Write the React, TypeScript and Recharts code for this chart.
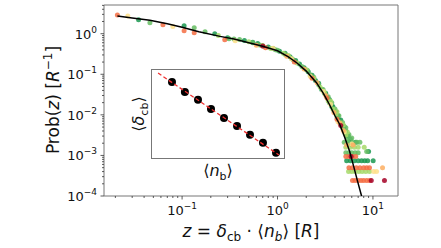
import React from 'react';
import {
  ScatterChart,
  Scatter,
  XAxis,
  YAxis,
  ReferenceArea,
} from 'recharts';

// black guide curve, Prob(z) against z
const curveZ = [0.021, 0.03, 0.046, 0.07, 0.1, 0.15, 0.25, 0.35, 0.5, 0.7, 1.0, 1.3, 1.6, 2.0, 2.56, 3.0, 3.5, 4.0, 4.5, 5.0, 5.67, 6.2, 6.87, 7.6];
const curveP = [2.75, 2.45, 2.15, 1.75, 1.45, 1.12, 0.86, 0.74, 0.6, 0.49, 0.38, 0.27, 0.19, 0.12, 0.062, 0.035, 0.018, 0.0095, 0.0057, 0.003, 0.0013, 0.0006, 0.00024, 0.0001];

// scatter series, one per colour
const darkGreenZ = [0.035, 0.105, 0.22, 0.45, 0.62, 0.8, 1.05, 1.35, 1.7, 2.1, 2.5, 2.9, 3.3, 3.7, 4.0, 4.4, 4.7, 4.9, 5.3, 5.6, 5.3, 5.8, 6.4, 7.0, 7.6, 8.2, 8.8, 10.05, 9.0, 6.0, 6.6,
  3.2, 3.5, 3.8, 4.1, 4.3, 4.6, 5.0, 5.2, 5.5, 5.8, 0.3, 0.55, 0.9, 1.2, 1.55, 1.9, 2.3, 2.7];
const darkGreenP = [2.2, 1.57, 1.0, 0.68, 0.57, 0.47, 0.37, 0.27, 0.18, 0.115, 0.07, 0.042, 0.027, 0.016, 0.012, 0.0075, 0.0058, 0.0045, 0.003, 0.0021, 0.00074, 0.00074, 0.00074, 0.00074, 0.00074, 0.00074, 0.00074, 0.00074, 0.00125, 0.0018, 0.0021,
  0.034, 0.024, 0.016, 0.012, 0.0095, 0.0075, 0.0052, 0.004, 0.003, 0.0025, 0.8, 0.62, 0.43, 0.33, 0.22, 0.145, 0.095, 0.06];

const greenZ = [0.046, 0.134, 0.174, 0.31, 0.4, 0.55, 0.7, 0.95, 1.2, 1.45, 1.8, 2.2, 2.7, 3.1, 3.5, 3.9, 4.2, 4.5, 4.8, 5.1, 5.4, 5.2, 5.6, 6.0, 6.5, 7.0, 5.0, 5.5, 6.1, 6.8, 7.3, 8.6,
  3.0, 3.4, 3.7, 4.0, 4.4, 4.8, 5.2, 5.6, 6.0, 0.35, 0.65, 1.0, 1.4, 2.4, 2.05];
const greenP = [1.86, 1.4, 1.12, 0.75, 0.72, 0.6, 0.5, 0.4, 0.31, 0.23, 0.155, 0.098, 0.055, 0.034, 0.02, 0.013, 0.0088, 0.0068, 0.0048, 0.0035, 0.0026, 0.00117, 0.00117, 0.00117, 0.00117, 0.00117, 0.0021, 0.0021, 0.0021, 0.0021, 0.0021, 0.00125,
  0.042, 0.028, 0.02, 0.014, 0.0095, 0.0065, 0.0048, 0.0033, 0.0027, 0.74, 0.53, 0.39, 0.25, 0.085, 0.125];

const lightGreenZ = [0.24, 0.5, 0.85, 1.15, 1.6, 2.0, 2.4, 2.8, 3.4, 3.8, 4.1, 4.6, 5.2, 5.55, 6.0, 6.5, 7.1, 7.7, 8.4, 9.2, 5.2, 5.8, 6.4, 7.0, 8.1,
  3.1, 3.6, 4.2, 4.9, 5.4, 0.7, 1.3];
const lightGreenP = [0.9, 0.63, 0.43, 0.33, 0.19, 0.13, 0.08, 0.048, 0.022, 0.014, 0.0105, 0.0062, 0.0032, 0.0004, 0.0004, 0.0004, 0.0004, 0.0004, 0.0004, 0.0004, 0.0016, 0.0016, 0.0016, 0.0016, 0.0016,
  0.036, 0.022, 0.012, 0.0056, 0.0038, 0.51, 0.29];

const yellowZ = [0.027, 0.08, 0.36, 0.9, 1.4, 2.2, 3.0, 3.6, 4.3, 5.0, 10.2, 10.9, 6.0];
const yellowP = [2.75, 1.5, 0.67, 0.44, 0.24, 0.09, 0.038, 0.018, 0.0068, 0.0038, 0.0004, 0.0004, 0.0019];

const lightOrangeZ = [0.6, 1.25, 1.9, 2.6, 3.2, 3.9, 4.5, 4.9, 12.6, 5.3, 6.2];
const lightOrangeP = [0.52, 0.28, 0.135, 0.062, 0.03, 0.0115, 0.0062, 0.0041, 0.0005, 0.0018, 0.0018];

const orangeZ = [0.021, 0.063, 0.105, 0.134, 0.28, 0.75, 1.5, 2.3, 3.3, 4.2, 6.1, 6.5, 7.0, 7.5, 8.0, 8.6, 9.2, 5.6, 6.1, 6.7, 7.3, 8.0, 8.6, 9.2, 5.2, 5.6, 6.1, 6.6];
const orangeP = [2.9, 1.67, 1.19, 1.06, 0.71, 0.45, 0.2, 0.08, 0.026, 0.0078, 0.00024, 0.00024, 0.00024, 0.00024, 0.00024, 0.00024, 0.00024, 0.0005, 0.0005, 0.0005, 0.0005, 0.0005, 0.0005, 0.0005, 0.00094, 0.00094, 0.00094, 0.00094];

const darkRedZ = [0.7, 4.6, 5.9, 9.6, 13.2];
const darkRedP = [0.5, 0.0055, 0.00094, 0.00024, 0.00024];

// inset: <delta_cb> against <n_b>
const insetN = [1.0, 1.41, 2.0, 2.83, 4.0, 5.66, 8.0, 11.3, 16.0];
const insetDelta = [1.0, 0.68, 0.5, 0.35, 0.246, 0.18, 0.127, 0.093, 0.063];
const fitN = [0.69, 17.3];
const fitDelta = [1.42, 0.0578];

const xTicks = [0.02, 0.03, 0.04, 0.05, 0.06, 0.07, 0.08, 0.09, 0.1, 0.2, 0.3, 0.4, 0.5, 0.6, 0.7, 0.8, 0.9, 1, 2, 3, 4, 5, 6, 7, 8, 9, 10];
const yTicks = [
  0.0001, 0.0002, 0.0003, 0.0004, 0.0005, 0.0006, 0.0007, 0.0008, 0.0009,
  0.001, 0.002, 0.003, 0.004, 0.005, 0.006, 0.007, 0.008, 0.009,
  0.01, 0.02, 0.03, 0.04, 0.05, 0.06, 0.07, 0.08, 0.09,
  0.1, 0.2, 0.3, 0.4, 0.5, 0.6, 0.7, 0.8, 0.9,
  1, 2, 3, 4, 5,
];

const zip = (xs: number[], ys: number[]) => xs.map((z, i) => ({ z, p: ys[i] }));

const series = [
  { name: 'darkgreen', color: '#1a9850', data: zip(darkGreenZ, darkGreenP) },
  { name: 'green', color: '#66bd63', data: zip(greenZ, greenP) },
  { name: 'lightgreen', color: '#a6d96a', data: zip(lightGreenZ, lightGreenP) },
  { name: 'yellow', color: '#fee08b', data: zip(yellowZ, yellowP) },
  { name: 'lightorange', color: '#fdae61', data: zip(lightOrangeZ, lightOrangeP) },
  { name: 'orange', color: '#f46d43', data: zip(orangeZ, orangeP) },
  { name: 'darkred', color: '#a50026', data: zip(darkRedZ, darkRedP) },
];

const FONT = 'DejaVu Sans, sans-serif';
const TICK = '#333';

const isMajor = (v: number) => Math.abs(Math.log10(v) - Math.round(Math.log10(v))) < 1e-6;
const expText = (v: number) => {
  const e = Math.round(Math.log10(v));
  return e < 0 ? `\u2212${-e}` : `${e}`;
};

const XTick = (props: any) => {
  const { x, y, payload } = props;
  const major = isMajor(payload.value);
  return (
    <g>
      <line x1={x} x2={x} y1={y} y2={y + (major ? 3.5 : 2)} stroke={TICK} strokeWidth={0.8} />
      {major && (
        <text x={x} y={y + 19} textAnchor="middle" fontSize={13} fontFamily={FONT} fill="#111">
          10<tspan dy={-6} fontSize={9}>{expText(payload.value)}</tspan>
        </text>
      )}
    </g>
  );
};

const YTick = (props: any) => {
  const { x, y, payload } = props;
  const major = isMajor(payload.value);
  return (
    <g>
      <line x1={x} x2={x - (major ? 3.5 : 2)} y1={y} y2={y} stroke={TICK} strokeWidth={0.8} />
      {major && (
        <text x={x - 7} y={y + 5} textAnchor="end" fontSize={13} fontFamily={FONT} fill="#111">
          10<tspan dy={-6} fontSize={9}>{expText(payload.value)}</tspan>
        </text>
      )}
    </g>
  );
};

const noDot = () => <g />;

export default function App() {
  const curve = zip(curveZ, curveP);
  const inset = insetN.map((n, i) => ({ n, d: insetDelta[i] }));
  const fit = fitN.map((n, i) => ({ n, d: fitDelta[i] }));

  return (
    <div style={{ position: 'absolute', left: 0, top: 0, width: 441, height: 248, background: 'white' }}>
      <ScatterChart width={441} height={248} margin={{ top: 5, right: 43, bottom: 22, left: 44 }}>
        <XAxis
          dataKey="z"
          type="number"
          scale="log"
          domain={[0.0152, 18.3]}
          allowDataOverflow
          ticks={xTicks}
          interval={0}
          tick={<XTick />}
          tickLine={false}
          axisLine={false}
          tickSize={0}
          tickMargin={0}
          height={30}
        />
        <YAxis
          dataKey="p"
          type="number"
          scale="log"
          domain={[0.0001, 5.1]}
          allowDataOverflow
          ticks={yTicks}
          interval={0}
          tick={<YTick />}
          tickLine={false}
          axisLine={false}
          tickSize={0}
          tickMargin={0}
          width={60}
        />
        <ReferenceArea x1={0.0152} x2={18.3} y1={0.0001} y2={5.1} fill="none" stroke="#777" strokeWidth={1} ifOverflow="visible" />
        {series.map((s) => (
          <Scatter
            key={s.name}
            data={s.data}
            fill={s.color}
            shape={(p: any) => <circle cx={p.cx} cy={p.cy} r={2.5} fill={s.color} fillOpacity={0.85} />}
            isAnimationActive={false}
          />
        ))}
        <Scatter
          data={curve}
          line={{ stroke: '#000', strokeWidth: 1.5 }}
          shape={noDot}
          isAnimationActive={false}
        />
      </ScatterChart>

      <div style={{ position: 'absolute', left: 152, top: 70, width: 132, height: 88, background: 'white', outline: '1px solid #777' }}>
        <ScatterChart width={132} height={88} margin={{ top: 0, right: 0, bottom: 0, left: 0 }}>
          <XAxis dataKey="n" type="number" scale="log" domain={[0.587, 19.8]} allowDataOverflow hide />
          <YAxis dataKey="d" type="number" scale="log" domain={[0.0514, 1.6]} allowDataOverflow hide />
          <Scatter
            data={inset}
            shape={(p: any) => <circle cx={p.cx} cy={p.cy} r={4} fill="#000" />}
            isAnimationActive={false}
          />
          <Scatter
            data={fit}
            line={{ stroke: '#f03030', strokeWidth: 1.3, strokeDasharray: '4 2.5' }}
            shape={noDot}
            isAnimationActive={false}
          />
        </ScatterChart>
      </div>

      <svg width={441} height={248} style={{ position: 'absolute', left: 0, top: 0, pointerEvents: 'none' }}>
        <text x={251} y={237} textAnchor="middle" fontSize={17} fontFamily={FONT} fill="#111">
          <tspan fontStyle="italic">z</tspan>
          {' = '}
          <tspan fontStyle="italic">δ</tspan>
          <tspan dy={4} fontSize={12}>cb</tspan>
          <tspan dy={-4}>{' · ⟨'}</tspan>
          <tspan fontStyle="italic">n</tspan>
          <tspan dy={4} fontSize={12} fontStyle="italic">b</tspan>
          <tspan dy={-4}>{'⟩ ['}</tspan>
          <tspan fontStyle="italic">R</tspan>
          ]
        </text>
        <text x={59} y={100} transform="rotate(-90 59 100)" textAnchor="middle" fontSize={17} fontFamily={FONT} fill="#111">
          Prob(<tspan fontStyle="italic">z</tspan>) [<tspan fontStyle="italic">R</tspan>
          <tspan dy={-7} fontSize={12}>−1</tspan>
          <tspan dy={7}>]</tspan>
        </text>
        <text x={144} y={114} transform="rotate(-90 144 114)" textAnchor="middle" fontSize={16} fontFamily={FONT} fill="#111">
          ⟨<tspan fontStyle="italic">δ</tspan>
          <tspan dy={4} fontSize={11}>cb</tspan>
          <tspan dy={-4}>⟩</tspan>
        </text>
        <text x={218} y={176} textAnchor="middle" fontSize={16} fontFamily={FONT} fill="#111">
          ⟨<tspan fontStyle="italic">n</tspan>
          <tspan dy={4} fontSize={11}>b</tspan>
          <tspan dy={-4}>⟩</tspan>
        </text>
      </svg>
    </div>
  );
}
